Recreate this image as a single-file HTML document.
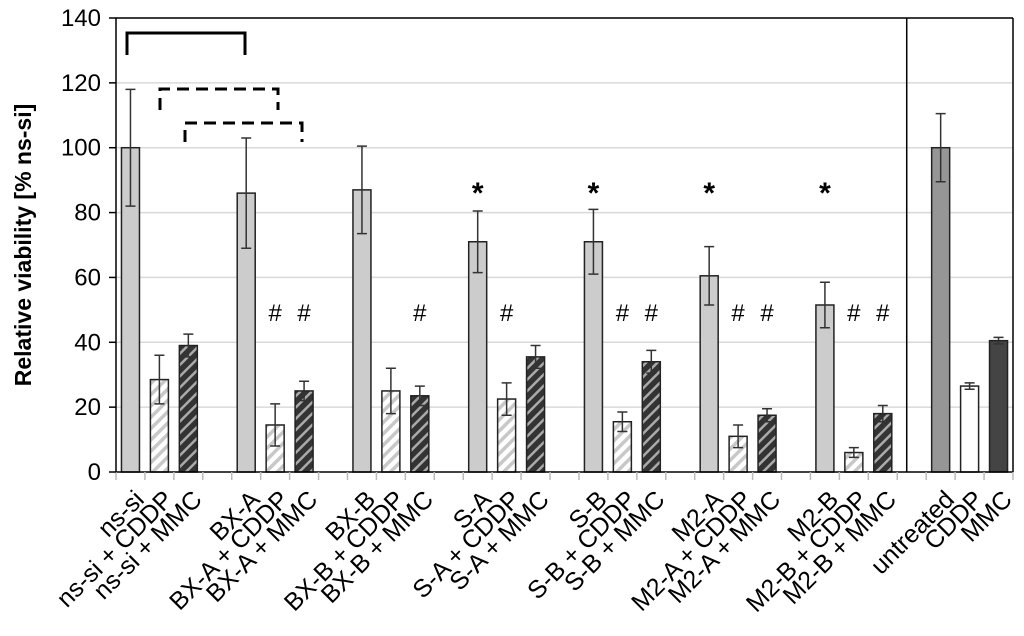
<!DOCTYPE html>
<html><head><meta charset="utf-8"><style>
body{margin:0;background:#fff}
svg{display:block;font-family:"Liberation Sans",Arial,sans-serif}
</style></head><body>
<svg id="chart" width="1024" height="636" viewBox="0 0 1024 636">
<defs>
<pattern id="hatchLight" patternUnits="userSpaceOnUse" width="8" height="8" patternTransform="rotate(45)">
<rect width="8" height="8" fill="#fff"/><rect width="3.5" height="8" fill="#c8c8c8"/></pattern>
<pattern id="hatchDark" patternUnits="userSpaceOnUse" width="8" height="8" patternTransform="rotate(45)">
<rect width="8" height="8" fill="#333"/><rect width="2.5" height="8" fill="#aaa"/></pattern>
</defs>
<g id="grid"></g>
<g id="bars"></g>
<g id="axes"></g>
<g id="labels"></g>
<text transform="translate(31,245) rotate(-90)" text-anchor="middle" font-size="23" font-weight="bold">Relative viability [% ns-si]</text>
<g fill="none" stroke="#000" stroke-width="3">
<path d="M127,55 V33 H245 V55"/>
<path d="M160,110 V89 H278 V110" stroke-dasharray="12,7"/>
<path d="M185,142 V123 H302 V142" stroke-dasharray="12,7"/>
</g>
</svg>
<script>
const categories=["ns-si","ns-si + CDDP","ns-si + MMC","","BX-A","BX-A + CDDP","BX-A + MMC","","BX-B","BX-B + CDDP","BX-B + MMC","","S-A","S-A + CDDP","S-A + MMC","","S-B","S-B + CDDP","S-B + MMC","","M2-A","M2-A + CDDP","M2-A + MMC","","M2-B","M2-B + CDDP","M2-B + MMC","","untreated","CDDP","MMC"];
const values=[100,28.5,39,null,86,14.5,25,null,87,25,23.5,null,71,22.5,35.5,null,71,15.5,34,null,60.5,11,17.5,null,51.5,6,18,null,100,26.5,40.5];
const errors=[18,7.5,3.5,null,17,6.5,3,null,13.5,7,3,null,9.5,5,3.5,null,10,3,3.5,null,9,3.5,2,null,7,1.5,2.5,null,10.5,1,1];
const styles=["g","l","d",null,"g","l","d",null,"g","l","d",null,"g","l","d",null,"g","l","d",null,"g","l","d",null,"g","l","d",null,"u","w","k"];
const marks=["","","",null,"","#","#",null,"","","#",null,"*","#","",null,"*","#","#",null,"*","#","#",null,"*","#","#",null,"","",""];
const yTicks=[0,20,40,60,80,100,120,140];
const X0=116,X1=1013,Y0=472,Y1=18,VMAX=140,N=categories.length,SW=(X1-X0)/N;
const ys=v=>Y0-(v/VMAX)*(Y0-Y1);
const xc=i=>X0+SW*(i+0.5);
const NS="http://www.w3.org/2000/svg";
function mk(p,t,a){const e=document.createElementNS(NS,t);for(const k in a)e.setAttribute(k,a[k]);p.appendChild(e);return e;}
const grid=document.getElementById('grid'),bars=document.getElementById('bars'),axes=document.getElementById('axes'),labels=document.getElementById('labels');
yTicks.forEach(t=>{
 if(t>0){const l=mk(grid,'line',{x1:X0,x2:X1,y1:ys(t),y2:ys(t),stroke:'#d9d9d9','stroke-width':1.5});
 
 }
 const tx=mk(axes,'text',{x:101,y:ys(t)+8,'text-anchor':'end','font-size':24});tx.textContent=t;
 
 
});
const fills={g:'#cccccc',l:'url(#hatchLight)',d:'url(#hatchDark)',u:'#969696',w:'#ffffff',k:'#444444'};
values.forEach((v,i)=>{
 if(v===null)return;
 const w=18,x=xc(i)-w/2;
 const r=mk(bars,'rect',{x:x,y:ys(v),width:w,height:Y0-ys(v),fill:fills[styles[i]],stroke:'#222','stroke-width':1.5});
 
 
 const e=errors[i],c=xc(i);
 const eb=mk(bars,'path',{d:`M${c},${ys(v+e)}V${ys(v-e)}M${c-5},${ys(v+e)}H${c+5}M${c-5},${ys(v-e)}H${c+5}`,stroke:'#333','stroke-width':1.5,fill:'none'});
 
 
 if(marks[i]){
  const star=marks[i]==='*';
  const m=mk(bars,'text',{x:c,y:star?ys(83):ys(46.5),'text-anchor':'middle','font-size':star?30:24,'font-weight':star?'bold':'normal'});
  m.textContent=marks[i];
  
  
 }
});
mk(axes,'line',{x1:X0,x2:X0,y1:Y1,y2:Y0,stroke:'#000','stroke-width':1.5});
mk(axes,'line',{x1:X1,x2:X1,y1:Y1,y2:Y0,stroke:'#000','stroke-width':1.5});
mk(axes,'line',{x1:X0,x2:X1,y1:Y1,y2:Y1,stroke:'#000','stroke-width':1.5});
mk(axes,'line',{x1:X0,x2:X1,y1:Y0,y2:Y0,stroke:'#000','stroke-width':1.5});
const sep=mk(axes,'line',{x1:xc(27)-5,x2:xc(27)-5,y1:Y1,y2:Y0,stroke:'#000','stroke-width':1.5});


for(let i=0;i<=N;i++){mk(axes,'line',{x1:X0+SW*i,x2:X0+SW*i,y1:Y0,y2:Y0+8,stroke:'#bbb','stroke-width':1.5});}
for(let i=0;i<=7;i++){mk(axes,'line',{x1:X0-7,x2:X0,y1:ys(i*20),y2:ys(i*20),stroke:'#000','stroke-width':1.5});}
categories.forEach((c,i)=>{
 if(!c)return;
 const t=mk(labels,'text',{'text-anchor':'end','font-size':25,transform:`translate(${xc(i)+15},${Y0+29}) rotate(-45)`});
 t.textContent=c;
 
 
});
</script>
</body></html>
